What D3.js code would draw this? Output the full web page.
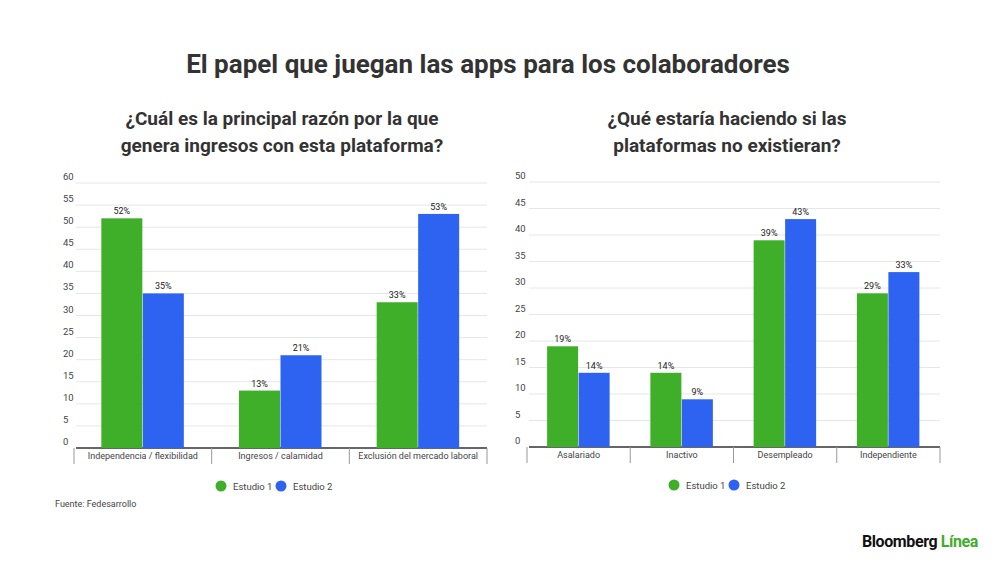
<!DOCTYPE html>
<html lang="es">
<head>
<meta charset="UTF-8">
<script src="https://d3js.org/d3.v7.min.js"></script>
<style>
  body { margin: 0; background: #fff; }
  text { font-family: Roboto, sans-serif; }
</style>
</head>
<body>
<script>
  // datos
  const leftCats = ["Independencia / flexibilidad", "Ingresos / calamidad", "Exclusión del mercado laboral"];
  const leftE1 = [52, 13, 33];
  const leftE2 = [35, 21, 53];
  const leftTicks = [0, 5, 10, 15, 20, 25, 30, 35, 40, 45, 50, 55, 60];

  const rightCats = ["Asalariado", "Inactivo", "Desempleado", "Independiente"];
  const rightE1 = [19, 14, 39, 29];
  const rightE2 = [14, 9, 43, 33];
  const rightTicks = [0, 5, 10, 15, 20, 25, 30, 35, 40, 45, 50];

  const series = ["Estudio 1", "Estudio 2"];
  const colors = ["#3fae29", "#2d63f0"];

  const svg = d3.select("body").append("svg").attr("width", 1000).attr("height", 562);

  svg.append("text").attr("x", 488).attr("y", 73).attr("text-anchor", "middle")
    .attr("font-size", 26).attr("font-weight", 700).attr("fill", "#333")
    .text("El papel que juegan las apps para los colaboradores");

  function chart(o) {
    const g = svg.append("g");
    o.title.forEach((t, i) => g.append("text").attr("x", o.tx).attr("y", 125 + i * 27)
      .attr("text-anchor", "middle").attr("font-size", 19).attr("font-weight", 700)
      .attr("fill", "#333").text(t));

    const y = d3.scaleLinear().domain([0, o.max]).range([o.y0, o.y1]);
    const x = d3.scaleBand().domain(o.cats).range([o.x0, o.x1]);
    const inner = d3.scaleBand().domain(series).range([0, o.bw * 2 + 1]);

    o.ticks.forEach(t => {
      g.append("line").attr("x1", o.x0 + 2).attr("x2", o.x1).attr("y1", y(t)).attr("y2", y(t))
        .attr("stroke", t === 0 ? "#333" : "#e6e6e6").attr("stroke-width", t === 0 ? 1.5 : 1);
      g.append("text").attr("x", o.lx).attr("y", y(t) - 3).attr("font-size", 9.5)
        .attr("fill", "#444").text(t);
    });

    // separadores de categorías
    o.cats.concat([null]).forEach((c, i) => {
      const sx = i < o.cats.length ? x(c) : o.x1;
      g.append("line").attr("x1", sx).attr("x2", sx).attr("y1", o.y0).attr("y2", o.y0 + 16)
        .attr("stroke", "#999");
    });

    const vals = [o.e1, o.e2];
    o.cats.forEach((c, ci) => {
      const gx = x(c) + (x.bandwidth() - inner.range()[1]) / 2;
      series.forEach((s, si) => {
        const v = vals[si][ci];
        g.append("rect").attr("x", gx + inner(s)).attr("y", y(v))
          .attr("width", o.bw).attr("height", o.y0 - y(v)).attr("fill", colors[si]);
        g.append("text").attr("x", gx + inner(s) + o.bw / 2).attr("y", y(v) - 4)
          .attr("text-anchor", "middle").attr("font-size", 9).attr("fill", "#222").text(v + "%");
      });
      g.append("text").attr("x", x(c) + x.bandwidth() / 2).attr("y", o.y0 + 11)
        .attr("text-anchor", "middle").attr("font-size", 9).attr("fill", "#444").text(c);
    });

    // leyenda
    series.forEach((s, i) => {
      const lx = o.legx + i * 60;
      g.append("circle").attr("cx", lx).attr("cy", o.legy).attr("r", 5.5).attr("fill", colors[i]);
      g.append("text").attr("x", lx + 12).attr("y", o.legy + 3.5).attr("font-size", 9.5)
        .attr("fill", "#444").text(s);
    });
  }

  chart({ title: ["¿Cuál es la principal razón por la que", "genera ingresos con esta plataforma?"],
    tx: 282, cats: leftCats, e1: leftE1, e2: leftE2, ticks: leftTicks, max: 60,
    x0: 74, x1: 487, y0: 448, y1: 183, lx: 63, bw: 41, legx: 221, legy: 486 });

  chart({ title: ["¿Qué estaría haciendo si las", "plataformas no existieran?"],
    tx: 727, cats: rightCats, e1: rightE1, e2: rightE2, ticks: rightTicks, max: 50,
    x0: 527, x1: 940, y0: 447, y1: 182, lx: 515, bw: 31, legx: 674, legy: 485 });

  svg.append("text").attr("x", 55).attr("y", 507).attr("font-size", 9).attr("fill", "#444")
    .text("Fuente: Fedesarrollo");

  const brand = svg.append("text").attr("x", 978).attr("y", 547).attr("text-anchor", "end")
    .attr("font-size", 16).attr("font-weight", 700).attr("letter-spacing", -0.4);
  brand.append("tspan").attr("fill", "#111").text("Bloomberg ");
  brand.append("tspan").attr("fill", "#3fae29").text("Línea");
</script>
</body>
</html>
